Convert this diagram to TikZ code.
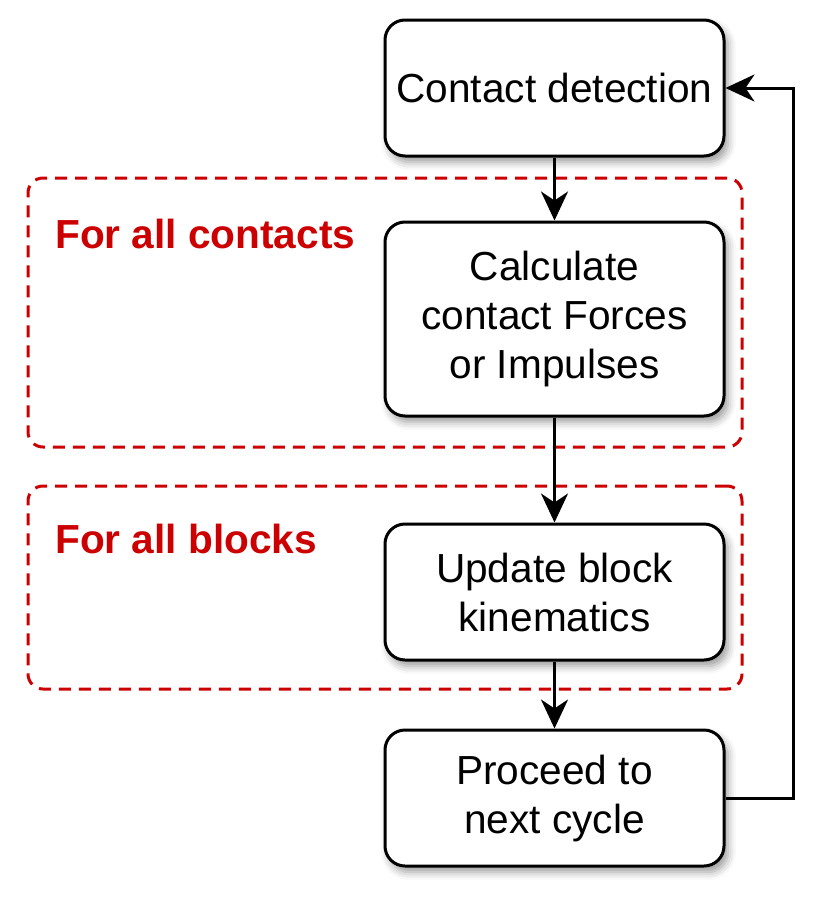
\documentclass[tikz,border=0pt]{standalone}
\usepackage{fontspec}
\setmainfont{Liberation Sans}
\usetikzlibrary{arrows.meta,shadows.blur}
\definecolor{dred}{HTML}{CC0000}
\begin{document}
\begin{tikzpicture}[x=1pt,y=-1pt,
  box/.style={draw=black, line width=3pt, rounded corners=20pt, fill=white,
    minimum width=339pt, align=center, inner sep=0pt,
    font=\fontsize{40.6}{49}\selectfont,
    blur shadow={shadow xshift=4pt, shadow yshift=-6pt, shadow blur radius=8pt, shadow opacity=40}},
  grp/.style={draw=dred, line width=3pt, dash pattern=on 12pt off 8pt, rounded corners=15pt, inner sep=0pt},
  lbl/.style={text=dred, font=\bfseries\fontsize{40.6}{48}\selectfont, inner sep=0pt},
  arr/.style={draw=black, line width=3pt, -{Stealth[length=29pt, width=27pt, inset=9pt]}}
]
\useasboundingbox (0,0) rectangle (824,908);
\node[grp, minimum width=714pt, minimum height=269pt] (g1) at (385,312.5) {};
\node[grp, minimum width=714pt, minimum height=203pt] (g2) at (385,587.5) {};
\node[lbl, anchor=base west] (l1) at (55,248) {For all contacts};
\node[lbl, anchor=base west] (l2) at (55,553) {For all blocks};
\node[box, minimum height=136pt] (cd) at (554.5,88) {Contact detection};
\node[box, minimum height=194pt] (calc) at (554.5,319) {Calculate\\contact Forces\\or Impulses};
\node[box, minimum height=136pt] (upd) at (554.5,592) {Update block\\kinematics};
\node[box, minimum height=136pt] (proc) at (554.5,798) {Proceed to\\next cycle};
\draw[arr] (cd.south) -- (calc.north);
\draw[arr] (calc.south) -- (upd.north);
\draw[arr] (upd.south) -- (proc.north);
\coordinate (lp) at (793,798);
\draw[arr] (proc.east) -- (lp) |- (cd.east);
\end{tikzpicture}
\end{document}
